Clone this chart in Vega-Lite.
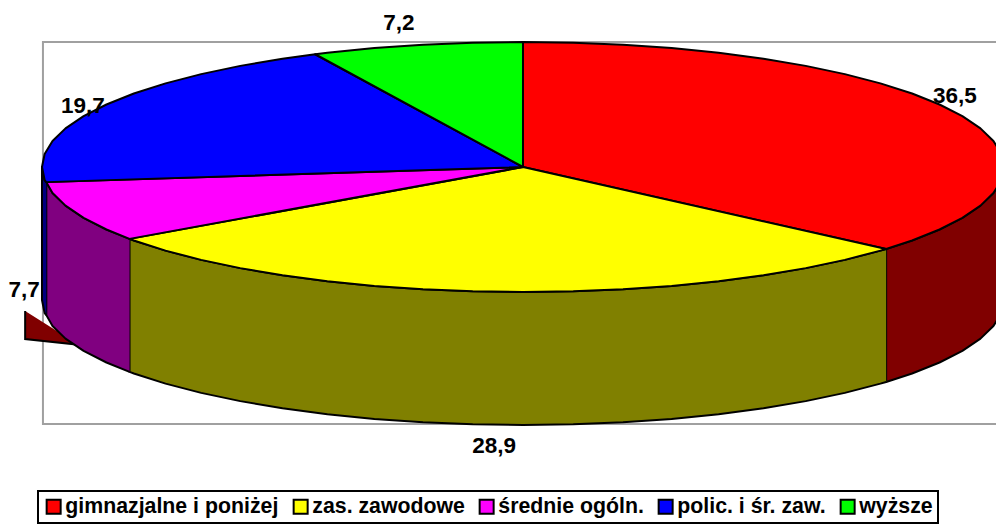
{"$schema":"https://vega.github.io/schema/vega-lite/v6.json","width":996,"height":529,"padding":0,"autosize":{"type":"none"},"background":"white",
"datasets":{
"frame":[{"s":0,"x":1.1,"y":1},{"s":1,"x":-0.998,"y":1},{"s":2,"x":-0.998,"y":-2.056},{"s":3,"x":1.1,"y":-2.056}],
"leader":[{"s":0,"x":-1.035,"y":-1.152},{"s":1,"x":-1.035,"y":-1.376},{"s":2,"x":-0.9,"y":-1.432},{"s":3,"x":-0.9,"y":-1.48}],
"walls":[
{"p":"gimnazjalne i poniżej","s":0,"x":1,"y":0},{"p":"gimnazjalne i poniżej","s":1,"x":0.9945,"y":-0.1045},{"p":"gimnazjalne i poniżej","s":2,"x":0.9781,"y":-0.2079},{"p":"gimnazjalne i poniżej","s":3,"x":0.9511,"y":-0.309},{"p":"gimnazjalne i poniżej","s":4,"x":0.9135,"y":-0.4067},{"p":"gimnazjalne i poniżej","s":5,"x":0.866,"y":-0.5},{"p":"gimnazjalne i poniżej","s":6,"x":0.809,"y":-0.5878},{"p":"gimnazjalne i poniżej","s":7,"x":0.755,"y":-0.656},{"p":"gimnazjalne i poniżej","s":8,"x":0.755,"y":-1.72},{"p":"gimnazjalne i poniżej","s":9,"x":0.809,"y":-1.6518},{"p":"gimnazjalne i poniżej","s":10,"x":0.866,"y":-1.564},{"p":"gimnazjalne i poniżej","s":11,"x":0.9135,"y":-1.4707},{"p":"gimnazjalne i poniżej","s":12,"x":0.9511,"y":-1.373},{"p":"gimnazjalne i poniżej","s":13,"x":0.9781,"y":-1.2719},{"p":"gimnazjalne i poniżej","s":14,"x":0.9945,"y":-1.1685},{"p":"gimnazjalne i poniżej","s":15,"x":1,"y":-1.064},
{"p":"zas. zawodowe","s":0,"x":0.755,"y":-0.656},{"p":"zas. zawodowe","s":1,"x":0.7431,"y":-0.6691},{"p":"zas. zawodowe","s":2,"x":0.6691,"y":-0.7431},{"p":"zas. zawodowe","s":3,"x":0.5878,"y":-0.809},{"p":"zas. zawodowe","s":4,"x":0.5,"y":-0.866},{"p":"zas. zawodowe","s":5,"x":0.4067,"y":-0.9135},{"p":"zas. zawodowe","s":6,"x":0.309,"y":-0.9511},{"p":"zas. zawodowe","s":7,"x":0.2079,"y":-0.9781},{"p":"zas. zawodowe","s":8,"x":0.1045,"y":-0.9945},{"p":"zas. zawodowe","s":9,"x":0,"y":-1},{"p":"zas. zawodowe","s":10,"x":-0.1045,"y":-0.9945},{"p":"zas. zawodowe","s":11,"x":-0.2079,"y":-0.9781},{"p":"zas. zawodowe","s":12,"x":-0.309,"y":-0.9511},{"p":"zas. zawodowe","s":13,"x":-0.4067,"y":-0.9135},{"p":"zas. zawodowe","s":14,"x":-0.5,"y":-0.866},{"p":"zas. zawodowe","s":15,"x":-0.5878,"y":-0.809},{"p":"zas. zawodowe","s":16,"x":-0.6691,"y":-0.7431},{"p":"zas. zawodowe","s":17,"x":-0.7431,"y":-0.6691},{"p":"zas. zawodowe","s":18,"x":-0.809,"y":-0.5878},{"p":"zas. zawodowe","s":19,"x":-0.818,"y":-0.575},
{"p":"zas. zawodowe","s":20,"x":-0.818,"y":-1.639},{"p":"zas. zawodowe","s":21,"x":-0.809,"y":-1.6518},{"p":"zas. zawodowe","s":22,"x":-0.7431,"y":-1.7331},{"p":"zas. zawodowe","s":23,"x":-0.6691,"y":-1.8071},{"p":"zas. zawodowe","s":24,"x":-0.5878,"y":-1.873},{"p":"zas. zawodowe","s":25,"x":-0.5,"y":-1.93},{"p":"zas. zawodowe","s":26,"x":-0.4067,"y":-1.9775},{"p":"zas. zawodowe","s":27,"x":-0.309,"y":-2.0151},{"p":"zas. zawodowe","s":28,"x":-0.2079,"y":-2.0421},{"p":"zas. zawodowe","s":29,"x":-0.1045,"y":-2.0585},{"p":"zas. zawodowe","s":30,"x":0,"y":-2.064},{"p":"zas. zawodowe","s":31,"x":0.1045,"y":-2.0585},{"p":"zas. zawodowe","s":32,"x":0.2079,"y":-2.0421},{"p":"zas. zawodowe","s":33,"x":0.309,"y":-2.0151},{"p":"zas. zawodowe","s":34,"x":0.4067,"y":-1.9775},{"p":"zas. zawodowe","s":35,"x":0.5,"y":-1.93},{"p":"zas. zawodowe","s":36,"x":0.5878,"y":-1.873},{"p":"zas. zawodowe","s":37,"x":0.6691,"y":-1.8071},{"p":"zas. zawodowe","s":38,"x":0.7431,"y":-1.7331},{"p":"zas. zawodowe","s":39,"x":0.755,"y":-1.72},
{"p":"średnie ogóln.","s":0,"x":-0.818,"y":-0.575},{"p":"średnie ogóln.","s":1,"x":-0.866,"y":-0.5},{"p":"średnie ogóln.","s":2,"x":-0.9135,"y":-0.4067},{"p":"średnie ogóln.","s":3,"x":-0.9511,"y":-0.309},{"p":"średnie ogóln.","s":4,"x":-0.9781,"y":-0.2079},{"p":"średnie ogóln.","s":5,"x":-0.991,"y":-0.121},{"p":"średnie ogóln.","s":6,"x":-0.991,"y":-1.185},{"p":"średnie ogóln.","s":7,"x":-0.9781,"y":-1.2719},{"p":"średnie ogóln.","s":8,"x":-0.9511,"y":-1.373},{"p":"średnie ogóln.","s":9,"x":-0.9135,"y":-1.4707},{"p":"średnie ogóln.","s":10,"x":-0.866,"y":-1.564},{"p":"średnie ogóln.","s":11,"x":-0.818,"y":-1.639},
{"p":"polic. i śr. zaw.","s":0,"x":-0.991,"y":-0.121},{"p":"polic. i śr. zaw.","s":1,"x":-0.9945,"y":-0.1045},{"p":"polic. i śr. zaw.","s":2,"x":-1,"y":0},{"p":"polic. i śr. zaw.","s":3,"x":-1,"y":-1.064},{"p":"polic. i śr. zaw.","s":4,"x":-0.9945,"y":-1.1685},{"p":"polic. i śr. zaw.","s":5,"x":-0.991,"y":-1.185}
],
"tops":[
{"p":"gimnazjalne i poniżej","s":0,"x":0,"y":0},{"p":"gimnazjalne i poniżej","s":1,"x":0,"y":1},{"p":"gimnazjalne i poniżej","s":2,"x":0.1045,"y":0.9945},{"p":"gimnazjalne i poniżej","s":3,"x":0.2079,"y":0.9781},{"p":"gimnazjalne i poniżej","s":4,"x":0.309,"y":0.9511},{"p":"gimnazjalne i poniżej","s":5,"x":0.4067,"y":0.9135},{"p":"gimnazjalne i poniżej","s":6,"x":0.5,"y":0.866},{"p":"gimnazjalne i poniżej","s":7,"x":0.5878,"y":0.809},{"p":"gimnazjalne i poniżej","s":8,"x":0.6691,"y":0.7431},{"p":"gimnazjalne i poniżej","s":9,"x":0.7431,"y":0.6691},{"p":"gimnazjalne i poniżej","s":10,"x":0.809,"y":0.5878},{"p":"gimnazjalne i poniżej","s":11,"x":0.866,"y":0.5},{"p":"gimnazjalne i poniżej","s":12,"x":0.9135,"y":0.4067},{"p":"gimnazjalne i poniżej","s":13,"x":0.9511,"y":0.309},{"p":"gimnazjalne i poniżej","s":14,"x":0.9781,"y":0.2079},{"p":"gimnazjalne i poniżej","s":15,"x":0.9945,"y":0.1045},{"p":"gimnazjalne i poniżej","s":16,"x":1,"y":0},{"p":"gimnazjalne i poniżej","s":17,"x":0.9945,"y":-0.1045},{"p":"gimnazjalne i poniżej","s":18,"x":0.9781,"y":-0.2079},{"p":"gimnazjalne i poniżej","s":19,"x":0.9511,"y":-0.309},{"p":"gimnazjalne i poniżej","s":20,"x":0.9135,"y":-0.4067},{"p":"gimnazjalne i poniżej","s":21,"x":0.866,"y":-0.5},{"p":"gimnazjalne i poniżej","s":22,"x":0.809,"y":-0.5878},{"p":"gimnazjalne i poniżej","s":23,"x":0.755,"y":-0.656},{"p":"gimnazjalne i poniżej","s":24,"x":0,"y":0},
{"p":"zas. zawodowe","s":0,"x":0,"y":0},{"p":"zas. zawodowe","s":1,"x":0.755,"y":-0.656},{"p":"zas. zawodowe","s":2,"x":0.7431,"y":-0.6691},{"p":"zas. zawodowe","s":3,"x":0.6691,"y":-0.7431},{"p":"zas. zawodowe","s":4,"x":0.5878,"y":-0.809},{"p":"zas. zawodowe","s":5,"x":0.5,"y":-0.866},{"p":"zas. zawodowe","s":6,"x":0.4067,"y":-0.9135},{"p":"zas. zawodowe","s":7,"x":0.309,"y":-0.9511},{"p":"zas. zawodowe","s":8,"x":0.2079,"y":-0.9781},{"p":"zas. zawodowe","s":9,"x":0.1045,"y":-0.9945},{"p":"zas. zawodowe","s":10,"x":0,"y":-1},{"p":"zas. zawodowe","s":11,"x":-0.1045,"y":-0.9945},{"p":"zas. zawodowe","s":12,"x":-0.2079,"y":-0.9781},{"p":"zas. zawodowe","s":13,"x":-0.309,"y":-0.9511},{"p":"zas. zawodowe","s":14,"x":-0.4067,"y":-0.9135},{"p":"zas. zawodowe","s":15,"x":-0.5,"y":-0.866},{"p":"zas. zawodowe","s":16,"x":-0.5878,"y":-0.809},{"p":"zas. zawodowe","s":17,"x":-0.6691,"y":-0.7431},{"p":"zas. zawodowe","s":18,"x":-0.7431,"y":-0.6691},{"p":"zas. zawodowe","s":19,"x":-0.809,"y":-0.5878},{"p":"zas. zawodowe","s":20,"x":-0.818,"y":-0.575},{"p":"zas. zawodowe","s":21,"x":0,"y":0},
{"p":"średnie ogóln.","s":0,"x":0,"y":0},{"p":"średnie ogóln.","s":1,"x":-0.818,"y":-0.575},{"p":"średnie ogóln.","s":2,"x":-0.866,"y":-0.5},{"p":"średnie ogóln.","s":3,"x":-0.9135,"y":-0.4067},{"p":"średnie ogóln.","s":4,"x":-0.9511,"y":-0.309},{"p":"średnie ogóln.","s":5,"x":-0.9781,"y":-0.2079},{"p":"średnie ogóln.","s":6,"x":-0.991,"y":-0.121},{"p":"średnie ogóln.","s":7,"x":0,"y":0},
{"p":"polic. i śr. zaw.","s":0,"x":0,"y":0},{"p":"polic. i śr. zaw.","s":1,"x":-0.991,"y":-0.121},{"p":"polic. i śr. zaw.","s":2,"x":-0.9945,"y":-0.1045},{"p":"polic. i śr. zaw.","s":3,"x":-1,"y":0},{"p":"polic. i śr. zaw.","s":4,"x":-0.9945,"y":0.1045},{"p":"polic. i śr. zaw.","s":5,"x":-0.9781,"y":0.2079},{"p":"polic. i śr. zaw.","s":6,"x":-0.9511,"y":0.309},{"p":"polic. i śr. zaw.","s":7,"x":-0.9135,"y":0.4067},{"p":"polic. i śr. zaw.","s":8,"x":-0.866,"y":0.5},{"p":"polic. i śr. zaw.","s":9,"x":-0.809,"y":0.5878},{"p":"polic. i śr. zaw.","s":10,"x":-0.7431,"y":0.6691},{"p":"polic. i śr. zaw.","s":11,"x":-0.6691,"y":0.7431},{"p":"polic. i śr. zaw.","s":12,"x":-0.5878,"y":0.809},{"p":"polic. i śr. zaw.","s":13,"x":-0.5,"y":0.866},{"p":"polic. i śr. zaw.","s":14,"x":-0.432,"y":0.902},{"p":"polic. i śr. zaw.","s":15,"x":0,"y":0},
{"p":"wyższe","s":0,"x":0,"y":0},{"p":"wyższe","s":1,"x":-0.432,"y":0.902},{"p":"wyższe","s":2,"x":-0.4067,"y":0.9135},{"p":"wyższe","s":3,"x":-0.309,"y":0.9511},{"p":"wyższe","s":4,"x":-0.2079,"y":0.9781},{"p":"wyższe","s":5,"x":-0.1045,"y":0.9945},{"p":"wyższe","s":6,"x":0,"y":1},{"p":"wyższe","s":7,"x":0,"y":0}
],
"labels":[{"t":"7,2","x":-0.258,"y":1.152},{"t":"36,5","x":0.898,"y":0.568},{"t":"19,7","x":-0.915,"y":0.488},{"t":"7,7","x":-1.037,"y":-0.984},{"t":"28,9","x":-0.06,"y":-2.232}]
},
"encoding":{
"x":{"field":"x","type":"quantitative","axis":null,"scale":{"domain":[-1.0873,0.9834],"nice":false,"zero":false}},
"y":{"field":"y","type":"quantitative","axis":null,"scale":{"domain":[-2.896,1.336],"nice":false,"zero":false}}
},
"layer":[
{"data":{"name":"frame"},"mark":{"type":"line","stroke":"#a0a0a0","strokeWidth":2,"clip":true},"encoding":{"order":{"field":"s","type":"quantitative"}}},
{"data":{"name":"leader"},"mark":{"type":"line","fill":"#800000","stroke":"black","strokeWidth":2,"clip":true},"encoding":{"order":{"field":"s","type":"quantitative"}}},
{"data":{"name":"walls"},"mark":{"type":"line","stroke":"black","strokeWidth":2,"clip":true,"strokeJoin":"round"},"encoding":{"order":{"field":"s","type":"quantitative"},"fill":{"field":"p","type":"nominal","legend":null,"scale":{"domain":["gimnazjalne i poniżej","zas. zawodowe","średnie ogóln.","polic. i śr. zaw."],"range":["#800000","#808000","#800080","#000080"]}}}},
{"data":{"name":"tops"},"mark":{"type":"line","stroke":"black","strokeWidth":2,"clip":true,"strokeJoin":"round"},"encoding":{"order":{"field":"s","type":"quantitative"},"fill":{"field":"p","type":"nominal","sort":null,"scale":{"domain":["gimnazjalne i poniżej","zas. zawodowe","średnie ogóln.","polic. i śr. zaw.","wyższe"],"range":["#ff0000","#ffff00","#ff00ff","#0000ff","#00ff00"]},"legend":{"title":null,"orient":"none","legendX":38,"legendY":491,"direction":"horizontal","columns":5,"columnPadding":10,"padding":5,"strokeColor":"black","fillColor":"white","symbolType":"square","symbolSize":196,"symbolStrokeColor":"black","symbolStrokeWidth":2,"labelFont":"Liberation Sans","labelFontWeight":"bold","labelFontSize":21.3,"labelColor":"black","labelOffset":1,"labelLimit":400,"labelExpr":"datum.label == 'wyższe' ? 'wyższe ' : datum.label"}}}},
{"data":{"name":"labels"},"mark":{"type":"text","font":"Liberation Sans","fontWeight":"bold","fontSize":22.5,"color":"black","baseline":"middle","align":"center"},"encoding":{"text":{"field":"t","type":"nominal"}}}
],
"resolve":{"scale":{"fill":"independent"}},
"config":{"view":{"stroke":null},"legend":{"strokeWidth":2}}
}
